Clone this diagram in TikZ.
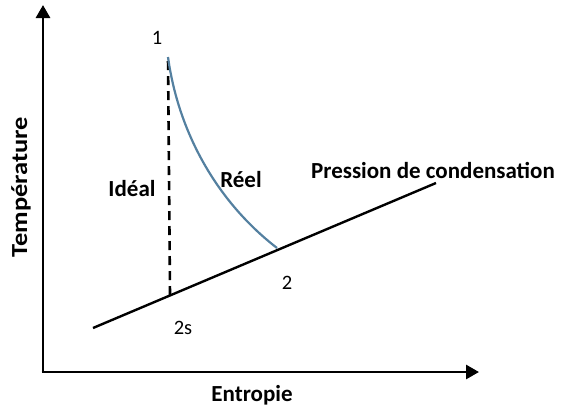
\documentclass[tikz,border=0pt]{standalone}
\usepackage{fontspec}
\setmainfont{Carlito}
\usetikzlibrary{arrows.meta}
\definecolor{curvecol}{RGB}{84,128,160}
\begin{document}
\begin{tikzpicture}[x=1pt,y=-1pt,
  lbl/.style={font=\fontsize{23}{25}\selectfont\bfseries, inner sep=0pt},
  num/.style={font=\fontsize{20.5}{22}\selectfont, inner sep=0pt},
  axis/.style={line width=2.8pt, -{Triangle[width=14pt,length=13pt]}},
  thick line/.style={line width=2.4pt}]
\useasboundingbox (0,0) rectangle (561,410);
\coordinate (O) at (43,372);
\coordinate (ytip) at (43,5);
\coordinate (xtip) at (479,372);
\draw[axis] (O) -- (ytip);
\draw[axis] ([xshift=-1.4pt]O) -- (xtip);
\coordinate (a) at (93,328);
\coordinate (b) at (436,183);
\draw[thick line] (a) -- (b);
\coordinate (p1) at (168,57);
\coordinate (p2s) at (170,295);
\coordinate (p2) at (277,248);
\draw[line width=2.6pt, dash pattern=on 9pt off 6pt] (p2s) -- (p1);
\draw[curvecol, line width=2.2pt] (p1) .. controls (178,130) and (215,200) .. (p2);
\node[num] (n1) at (157,38) {1};
\node[num] (n2) at (287,283) {2};
\node[num] (n2s) at (183,328) {2s};
\node[lbl] (ideal) at (132,189) {Idéal};
\node[lbl] (reel) at (241,180) {Réel};
\node[lbl] (press) at (433,170) {Pression de condensation};
\node[lbl] (entropie) at (252,395) {Entropie};
\node[lbl, rotate=90] (temp) at (21,187) {\scalebox{1.15}[1]{Température}};
\end{tikzpicture}
\end{document}
